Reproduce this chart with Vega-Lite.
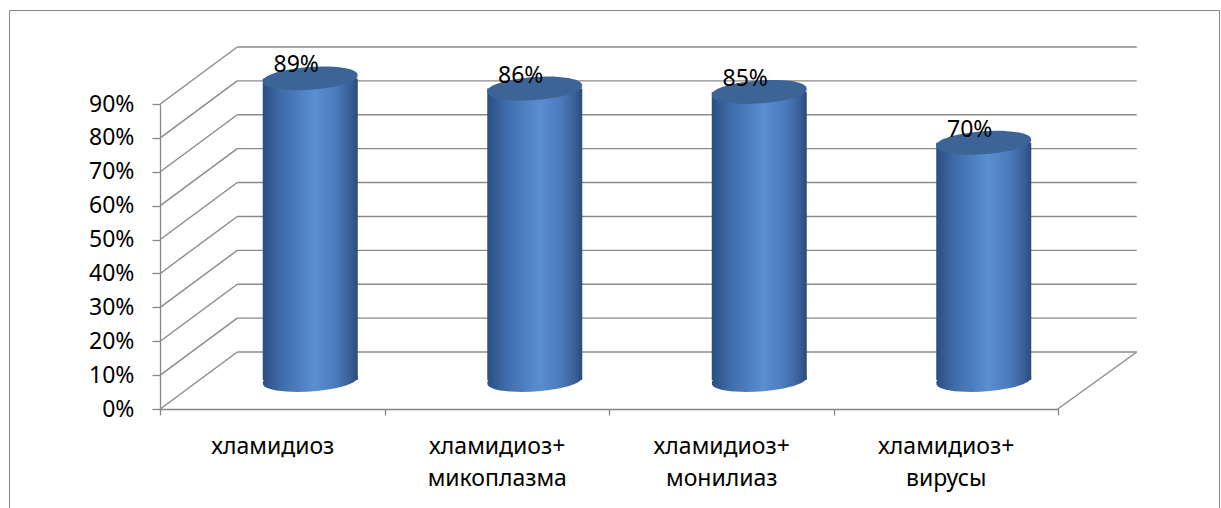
{
  "$schema": "https://vega.github.io/schema/vega-lite/v6.json",
  "width": 1210,
  "height": 498,
  "autosize": "none",
  "padding": {"left": 9, "top": 10, "right": 2, "bottom": 0},
  "background": "white",
  "config": {
    "view": {"stroke": "#868686", "strokeWidth": 1},
    "font": "Noto Sans"
  },
  "datasets": {
    "main": [
      {"category": "хламидиоз", "value": 0.89},
      {"category": "хламидиоз+ микоплазма", "value": 0.86},
      {"category": "хламидиоз+ монилиаз", "value": 0.85},
      {"category": "хламидиоз+ вирусы", "value": 0.70}
    ],
    "gridvals": [
      {"v": 0}, {"v": 0.1}, {"v": 0.2}, {"v": 0.3}, {"v": 0.4},
      {"v": 0.5}, {"v": 0.6}, {"v": 0.7}, {"v": 0.8}, {"v": 0.9}
    ],
    "floorrow": [{"v": 0}]
  },
  "encoding": {
    "x": {"field": "category", "type": "nominal", "sort": null,
      "scale": {"type": "band", "domain": ["хламидиоз", "хламидиоз+ микоплазма", "хламидиоз+ монилиаз", "хламидиоз+ вирусы"], "range": [151, 1049], "paddingInner": 0, "paddingOuter": 0},
      "axis": {"orient": "bottom", "offset": -99, "title": null, "grid": false, "tickBand": "extent", "tickSize": 6, "tickColor": "#868686", "tickWidth": 1.3,
        "domainColor": "#868686", "domainWidth": 1.3, "labelAngle": 0, "labelFontSize": 23, "labelColor": "#000000",
        "labelFont": "Noto Sans", "labelPadding": 20, "labelLineHeight": 32, "labelOverlap": false,
        "labelExpr": "split(datum.label, ' ')"}},
    "y": {"field": "value", "type": "quantitative", "scale": {"domain": [0, 0.9], "range": [399, 94]},
      "axis": {"orient": "left", "offset": -151, "title": null, "grid": false, "values": [0, 0.1, 0.2, 0.3, 0.4, 0.5, 0.6, 0.7, 0.8, 0.9], "format": ".0%",
        "labelFontSize": 23, "labelColor": "#000000", "labelFont": "Noto Sans", "tickSize": 8, "tickColor": "#868686", "tickWidth": 1.3,
        "domainColor": "#868686", "domainWidth": 1.3, "labelPadding": 18}}
  },
  "layer": [
    {
      "data": {"name": "gridvals"},
      "mark": {"type": "rule", "color": "#8a8a8a", "strokeWidth": 1.4, "xOffset": -35, "x2Offset": 191, "yOffset": -57},
      "encoding": {
        "x": {"datum": "хламидиоз", "type": "nominal"},
        "x2": {"datum": "хламидиоз+ вирусы"},
        "y": {"field": "v", "type": "quantitative"}
      }
    },
    {
      "data": {"name": "gridvals"},
      "mark": {"type": "rule", "color": "#8a8a8a", "strokeWidth": 1.4, "xOffset": -112, "x2Offset": -35, "y2Offset": -57},
      "encoding": {
        "x": {"datum": "хламидиоз", "type": "nominal"},
        "x2": {"datum": "хламидиоз"},
        "y": {"field": "v", "type": "quantitative"},
        "y2": {"field": "v"}
      }
    },
    {
      "data": {"name": "floorrow"},
      "mark": {"type": "rule", "color": "#8a8a8a", "strokeWidth": 1.4, "xOffset": 112, "x2Offset": 191, "y2Offset": -57},
      "encoding": {
        "x": {"datum": "хламидиоз+ вирусы", "type": "nominal"},
        "x2": {"datum": "хламидиоз+ вирусы"},
        "y": {"field": "v", "type": "quantitative"},
        "y2": {"field": "v"}
      }
    },
    {
      "data": {"name": "main"},
      "mark": {"type": "point", "filled": true, "opacity": 1, "strokeWidth": 0, "size": 9025, "xOffset": 38, "yOffset": -29,
        "shape": "M-0.9962,0.0698 A1,0.23,-4,1,0,0.9962,-0.0698 A1,0.23,-4,1,0,-0.9962,0.0698 Z",
        "fill": {"gradient": "linear", "x1": 0, "x2": 1, "y1": 0, "y2": 0,
          "stops": [{"offset": 0, "color": "#2b4e80"}, {"offset": 0.18, "color": "#3e6aa8"}, {"offset": 0.55, "color": "#5a8ed2"}, {"offset": 0.78, "color": "#4a7aba"}, {"offset": 0.93, "color": "#385e96"}, {"offset": 1, "color": "#2c4a78"}]}},
      "encoding": {
        "y": {"datum": 0, "type": "quantitative"}
      }
    },
    {
      "data": {"name": "main"},
      "mark": {"type": "bar", "width": 95, "xOffset": 38, "yOffset": -29, "y2Offset": -29,
        "color": {"gradient": "linear", "x1": 0, "x2": 1, "y1": 0, "y2": 0,
          "stops": [{"offset": 0, "color": "#2b4e80"}, {"offset": 0.18, "color": "#3e6aa8"}, {"offset": 0.55, "color": "#5a8ed2"}, {"offset": 0.78, "color": "#4a7aba"}, {"offset": 0.93, "color": "#385e96"}, {"offset": 1, "color": "#2c4a78"}]}},
      "encoding": {
        "y2": {"datum": 0}
      }
    },
    {
      "data": {"name": "main"},
      "mark": {"type": "point", "filled": true, "opacity": 1, "strokeWidth": 0, "size": 9025, "xOffset": 38, "yOffset": -29,
        "shape": "M-0.9962,0.0698 A1,0.23,-4,1,0,0.9962,-0.0698 A1,0.23,-4,1,0,-0.9962,0.0698 Z",
        "fill": "#3d6497"}
    },
    {
      "data": {"name": "main"},
      "mark": {"type": "text", "fontSize": 23, "font": "Noto Sans", "color": "#000000", "dx": 24, "dy": -35, "baseline": "alphabetic", "align": "center"},
      "encoding": {
        "text": {"field": "value", "type": "quantitative", "format": ".0%"}
      }
    }
  ]
}
